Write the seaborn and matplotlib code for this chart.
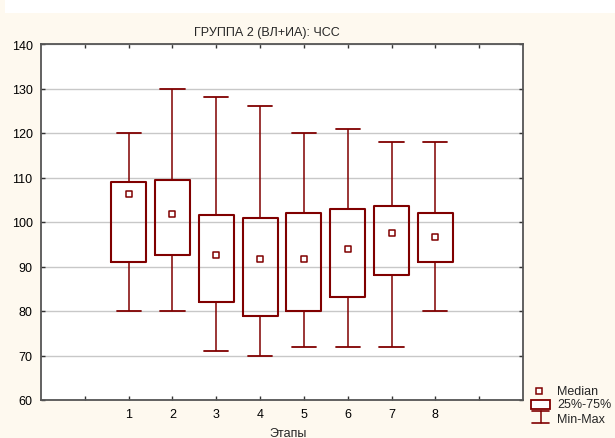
import numpy as np
import pandas as pd
import matplotlib
matplotlib.use("Agg")
import matplotlib.pyplot as plt
from matplotlib.lines import Line2D
from matplotlib.patches import Rectangle
import seaborn as sns

# ---- data ----
stages = [1, 2, 3, 4, 5, 6, 7, 8]
mins = [80, 80, 71, 70, 72, 72, 72, 80]
q1s = [91, 92.5, 82, 78.8, 80, 83.2, 88, 91]
medians = [106.2, 101.7, 92.6, 91.6, 91.6, 94, 97.6, 96.6]
q3s = [109, 109.5, 101.5, 101, 102, 103, 103.5, 102]
maxs = [120, 130, 128, 126, 120, 121, 118, 118]
x_ticklabels = ["1", "2", "3", "4", "5", "6", "7", "8"]
y_ticks = [60, 70, 80, 90, 100, 110, 120, 130, 140]

title = "ГРУППА 2 (ВЛ+ИА): ЧСС"
xlabel = "Этапы"
legend_labels = ["Median", "25%-75%", "Min-Max"]

MAROON = "#800000"
CREAM = "#FEF9EF"

# long-form table: five summary points per stage (min, q1, median, q3, max)
rows = []
for s, a, b, c, d, e in zip(stages, mins, q1s, medians, q3s, maxs):
    for v in (a, b, c, d, e):
        rows.append({"Этап": s, "ЧСС": v})
df = pd.DataFrame(rows)
med_df = pd.DataFrame({"Этап": stages, "ЧСС": medians})

sns.set_style("white")
plt.rcParams["font.family"] = ["Liberation Sans", "DejaVu Sans"]
plt.rcParams["font.size"] = 9

W, H = 615, 439
fig = plt.figure(figsize=(W / 100, H / 100), dpi=100)
fig.patch.set_facecolor(CREAM)

def fx(px):
    return px / W

def fy(py):
    return 1 - py / H

left, right, top, bottom = 41, 523, 45, 401
ax = fig.add_axes([fx(left), fy(bottom), fx(right - left), (bottom - top) / H])
ax.set_facecolor("white")

sns.boxplot(
    data=df, x="Этап", y="ЧСС", native_scale=True, whis=(0, 100),
    width=0.8, fill=False, color=MAROON, linewidth=1.5, showfliers=False,
    medianprops={"visible": False},
    whiskerprops={"linewidth": 1.1}, capprops={"linewidth": 1.3},
    capwidths=0.55, ax=ax,
)
sns.scatterplot(
    data=med_df, x="Этап", y="ЧСС", marker="s", s=22, color="white",
    edgecolor=MAROON, linewidth=1.1, ax=ax, zorder=5, legend=False,
)

ax.set_xlim(-1, 10)
ax.set_ylim(60, 140)
ax.set_xticks(range(0, 10))
ax.set_xticklabels([""] + x_ticklabels + [""])
ax.set_yticks(y_ticks)
ax.set_yticklabels([str(v) for v in y_ticks])
ax.set_xlabel("")
ax.set_ylabel("")
ax.yaxis.grid(True, color="#C8C8C8", linewidth=1.0)
ax.xaxis.grid(False)
ax.set_axisbelow(True)
ax.tick_params(direction="in", length=3, width=1, color="#333333",
               top=True, right=True, bottom=True, left=True,
               labelsize=9, pad=6, labelcolor="black")
for sp in ax.spines.values():
    sp.set_visible(True)
    sp.set_color("#555555")
    sp.set_linewidth(1.3)

# title and x label
fig.text(fx(267), fy(33), title, ha="center", va="center", fontsize=9)
fig.text(fx(288), fy(428), xlabel, ha="center", va="top", fontsize=9)

# white strip at the top (screenshot edge)
fig.add_artist(Rectangle((fx(5), fy(14)), 1, 14 / H, transform=fig.transFigure,
                         facecolor="white", edgecolor="none", zorder=0))

# legend (manual)
fig.add_artist(Line2D([fx(539)], [fy(392)], marker="s", markersize=4.5,
                      markerfacecolor="white", markeredgecolor=MAROON,
                      markeredgewidth=1.1, linestyle="none",
                      transform=fig.transFigure))
fig.add_artist(Rectangle((fx(531), fy(409.5)), (550 - 531) / W, 8.5 / H,
                         transform=fig.transFigure, facecolor="white",
                         edgecolor=MAROON, linewidth=1.3))
for yy in (412, 424):
    fig.add_artist(Line2D([fx(532), fx(549)], [fy(yy), fy(yy)], color=MAROON,
                          linewidth=1.2, transform=fig.transFigure))
fig.add_artist(Line2D([fx(540.5), fx(540.5)], [fy(412), fy(424)], color=MAROON,
                      linewidth=1.1, transform=fig.transFigure))
for lab, yy in zip(legend_labels, (392, 405, 420)):
    fig.text(fx(557), fy(yy), lab, ha="left", va="center", fontsize=9)

fig.savefig("out.png", dpi=100, facecolor=CREAM)
